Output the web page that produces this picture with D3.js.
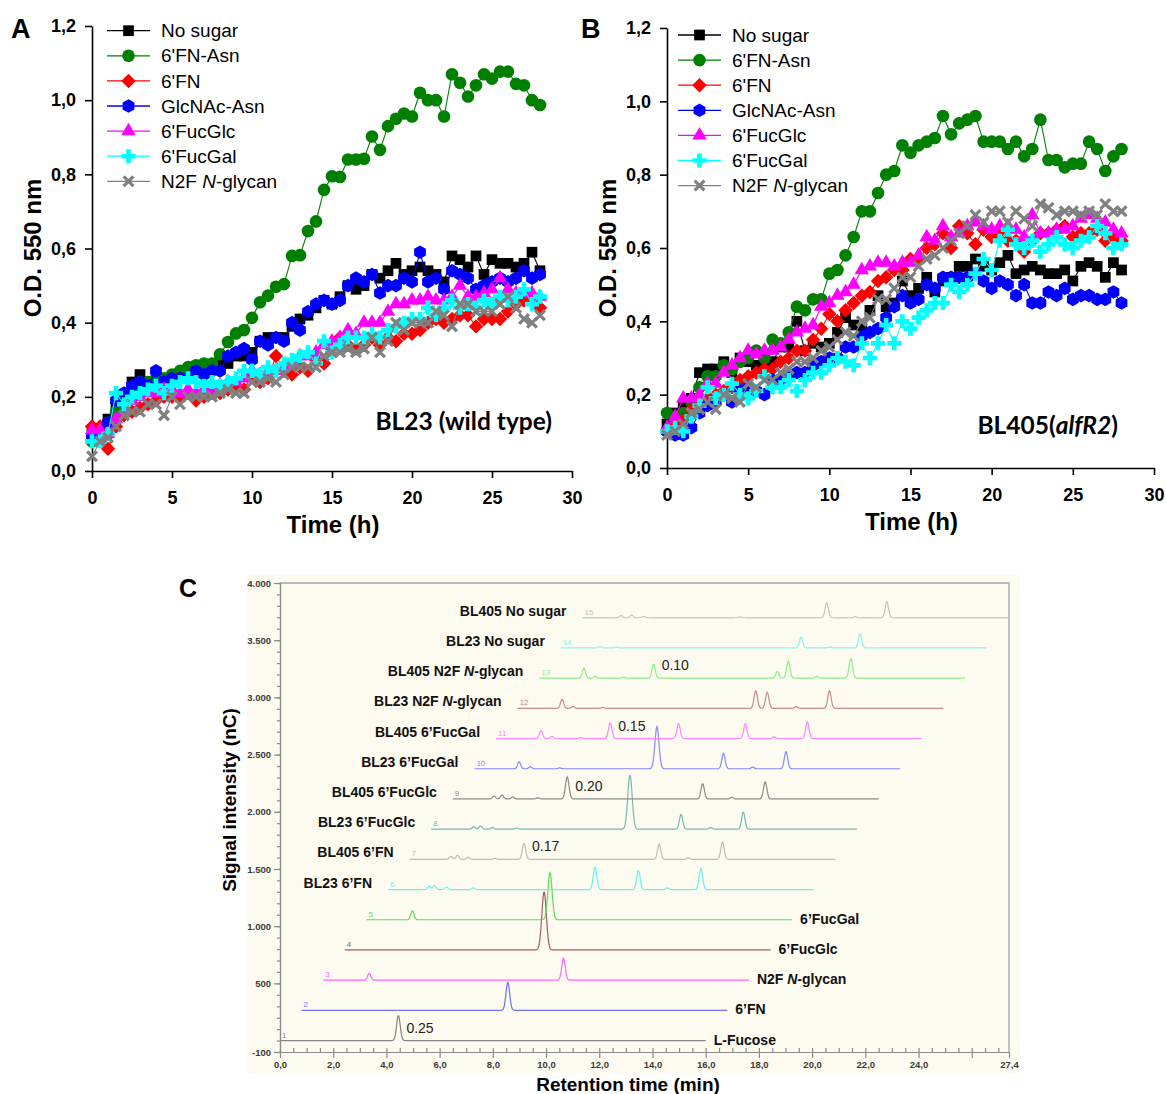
<!DOCTYPE html>
<html>
<head>
<meta charset="utf-8">
<script src="https://cdn.jsdelivr.net/npm/d3@7"></script>
<style>
  body { margin: 0; background: #fff; }
  svg { display: block; font-family: "Liberation Sans", Arial, sans-serif; }
</style>
</head>
<body>
<svg id="fig" width="1166" height="1094"></svg>
<script>
// ---- growth curves (panels A and B) ----
const hours = [0, 0.5, 1, 1.5, 2, 2.5, 3, 3.5, 4, 4.5, 5, 5.5, 6, 6.5, 7, 7.5, 8, 8.5, 9, 9.5,
  10, 10.5, 11, 11.5, 12, 12.5, 13, 13.5, 14, 14.5, 15, 15.5, 16, 16.5, 17, 17.5, 18, 18.5, 19, 19.5,
  20, 20.5, 21, 21.5, 22, 22.5, 23, 23.5, 24, 24.5, 25, 25.5, 26, 26.5, 27, 27.5, 28];

const seriesNames = ['No sugar', "6'FN-Asn", "6'FN", 'GlcNAc-Asn', "6'FucGlc", "6'FucGal", 'N2F N-glycan'];
const seriesColors = ['#000000', '#008000', '#ff0000', '#0000ff', '#ff00ff', '#00ffff', '#808080'];

const aNoSugar = [0.10,0.11,0.14,0.17,0.20,0.24,0.26,0.24,0.22,0.24, 0.25,0.25,0.26,0.27,0.27,0.28,0.30,0.29,0.31,0.31,
  0.32,0.35,0.36,0.36,0.36,0.39,0.41,0.42,0.44,0.46, 0.45,0.47,0.50,0.49,0.50,0.53,0.52,0.54,0.56,0.53,
  0.54,0.55,0.54,0.53,0.51,0.58,0.57,0.55,0.58,0.53, 0.57,0.56,0.56,0.55,0.56,0.59,0.54];
const aFNAsn = [0.08,0.10,0.13,0.16,0.19,0.22,0.24,0.24,0.25,0.25, 0.26,0.27,0.28,0.285,0.29,0.29,0.315,0.348,0.371,0.38,
  0.413,0.455,0.473,0.497,0.504,0.58,0.582,0.647,0.673,0.758, 0.795,0.793,0.84,0.84,0.842,0.902,0.866,0.93,0.95,0.964,
  0.956,1.02,1.0,1.0,0.956,1.07,1.047,1.01,1.04,1.07, 1.058,1.077,1.077,1.044,1.04,1.0,0.987];
const aFN = [0.12,0.12,0.06,0.12,0.15,0.16,0.17,0.18,0.19,0.20, 0.20,0.20,0.21,0.19,0.20,0.21,0.21,0.22,0.23,0.22,
  0.26,0.24,0.25,0.31,0.27,0.26,0.28,0.27,0.30,0.29, 0.33,0.36,0.34,0.33,0.34,0.36,0.34,0.36,0.35,0.37,
  0.37,0.38,0.40,0.41,0.40,0.41,0.42,0.42,0.39,0.41, 0.41,0.41,0.43,0.45,0.46,0.46,0.44];
const aGlcNAcAsn = [0.09,0.10,0.13,0.19,0.21,0.23,0.24,0.23,0.27,0.24, 0.25,0.25,0.25,0.27,0.26,0.27,0.27,0.31,0.32,0.33,
  0.30,0.35,0.34,0.36,0.35,0.40,0.38,0.43,0.45,0.46, 0.45,0.46,0.50,0.52,0.51,0.53,0.48,0.50,0.50,0.52,
  0.51,0.59,0.51,0.52,0.49,0.54,0.53,0.52,0.49,0.50, 0.51,0.52,0.51,0.52,0.54,0.52,0.53];
const aFucGlc = [0.11,0.11,0.10,0.14,0.16,0.19,0.20,0.21,0.21,0.22, 0.22,0.21,0.22,0.21,0.22,0.22,0.23,0.24,0.24,0.25,
  0.27,0.26,0.27,0.27,0.28,0.29,0.31,0.31,0.32,0.34, 0.35,0.36,0.38,0.37,0.40,0.40,0.40,0.43,0.45,0.45,
  0.46,0.46,0.47,0.46,0.46,0.47,0.50,0.47,0.47,0.48, 0.49,0.52,0.49,0.48,0.48,0.48,0.47];
const aFucGal = [0.08,0.08,0.10,0.21,0.18,0.20,0.21,0.22,0.23,0.21, 0.23,0.24,0.25,0.24,0.23,0.24,0.23,0.24,0.25,0.27,
  0.27,0.26,0.28,0.27,0.29,0.30,0.31,0.32,0.29,0.35, 0.32,0.34,0.36,0.36,0.36,0.37,0.36,0.38,0.39,0.40,
  0.41,0.41,0.44,0.42,0.44,0.46,0.44,0.45,0.44,0.46, 0.45,0.47,0.46,0.47,0.49,0.45,0.47];
const aN2F = [0.04,0.08,0.09,0.12,0.15,0.16,0.16,0.18,0.18,0.15, 0.20,0.18,0.20,0.20,0.20,0.20,0.21,0.22,0.21,0.21,
  0.24,0.24,0.25,0.24,0.26,0.28,0.28,0.28,0.28,0.31, 0.32,0.32,0.33,0.32,0.33,0.36,0.32,0.35,0.40,0.38,
  0.40,0.40,0.40,0.43,0.42,0.39,0.45,0.45,0.43,0.43, 0.43,0.45,0.47,0.44,0.41,0.40,0.42];

const bNoSugar = [0.12,0.15,0.17,0.19,0.26,0.27,0.27,0.29,0.26,0.30, 0.29,0.28,0.29,0.29,0.33,0.33,0.40,0.32,0.34,0.33,
  0.34,0.37,0.41,0.39,0.38,0.43,0.47,0.44,0.45,0.51, 0.47,0.49,0.52,0.48,0.51,0.52,0.55,0.55,0.57,0.55,
  0.54,0.56,0.58,0.53,0.54,0.55,0.54,0.53,0.53,0.54, 0.51,0.55,0.56,0.55,0.52,0.56,0.54];
const bFNAsn = [0.15,0.12,0.15,0.18,0.22,0.25,0.25,0.28,0.27,0.29, 0.30,0.32,0.30,0.35,0.34,0.37,0.44,0.43,0.46,0.46,
  0.53,0.54,0.58,0.63,0.70,0.70,0.75,0.80,0.81,0.88, 0.86,0.88,0.89,0.90,0.96,0.91,0.94,0.95,0.96,0.89,
  0.89,0.89,0.87,0.89,0.85,0.87,0.95,0.84,0.84,0.82, 0.83,0.83,0.89,0.87,0.81,0.85,0.87];
const bFN = [0.10,0.12,0.13,0.16,0.17,0.19,0.20,0.21,0.22,0.24, 0.25,0.26,0.27,0.27,0.29,0.30,0.32,0.32,0.35,0.38,
  0.42,0.40,0.43,0.45,0.47,0.48,0.51,0.52,0.54,0.54, 0.57,0.57,0.60,0.61,0.64,0.60,0.66,0.64,0.61,0.65,
  0.63,0.64,0.62,0.62,0.59,0.62,0.64,0.64,0.65,0.66, 0.63,0.64,0.64,0.65,0.62,0.63,0.62];
const bGlcNAcAsn = [0.10,0.09,0.09,0.11,0.15,0.17,0.18,0.20,0.18,0.21, 0.22,0.21,0.20,0.24,0.24,0.25,0.26,0.26,0.28,0.29,
  0.30,0.30,0.33,0.33,0.36,0.37,0.38,0.41,0.44,0.47, 0.45,0.46,0.50,0.49,0.52,0.52,0.52,0.52,0.53,0.51,
  0.49,0.51,0.50,0.47,0.50,0.45,0.45,0.48,0.47,0.49, 0.46,0.47,0.47,0.46,0.46,0.48,0.45];
const bFucGlc = [0.11,0.14,0.19,0.19,0.20,0.23,0.23,0.26,0.28,0.30, 0.32,0.31,0.32,0.32,0.33,0.35,0.37,0.38,0.39,0.44,
  0.45,0.47,0.48,0.50,0.54,0.55,0.56,0.56,0.55,0.56, 0.56,0.58,0.63,0.62,0.66,0.63,0.64,0.66,0.67,0.66,
  0.65,0.66,0.66,0.65,0.63,0.69,0.64,0.64,0.65,0.65, 0.66,0.68,0.69,0.68,0.67,0.65,0.64];
const bFucGal = [0.10,0.11,0.10,0.14,0.17,0.22,0.19,0.20,0.23,0.20, 0.19,0.21,0.25,0.22,0.22,0.24,0.21,0.24,0.26,0.26,
  0.28,0.30,0.29,0.28,0.34,0.30,0.34,0.39,0.34,0.40, 0.38,0.41,0.43,0.45,0.45,0.50,0.48,0.50,0.53,0.57,
  0.54,0.62,0.65,0.61,0.60,0.62,0.59,0.61,0.63,0.61, 0.60,0.62,0.63,0.66,0.64,0.60,0.61];
const bN2F = [0.09,0.10,0.12,0.15,0.16,0.18,0.16,0.20,0.19,0.18, 0.23,0.22,0.24,0.24,0.26,0.27,0.29,0.29,0.30,0.32,
  0.33,0.35,0.37,0.36,0.40,0.41,0.46,0.46,0.49,0.52, 0.52,0.55,0.57,0.58,0.60,0.62,0.64,0.66,0.69,0.67,
  0.70,0.70,0.67,0.70,0.68,0.66,0.72,0.71,0.69,0.70, 0.70,0.69,0.70,0.69,0.72,0.70,0.70];

const timeTicks = [0, 5, 10, 15, 20, 25, 30];
const odTicks = [0, 0.2, 0.4, 0.6, 0.8, 1.0, 1.2];

// ---- HPAEC-PAD chromatograms (panel C) ----
// peaks per trace: [retention time (min, from trace start), height (nC)]
const trace1 = [[4.45, 219]];
const trace2 = [[7.75, 245]];
const trace3 = [[1.73, 61], [9.03, 192]];
const trace4 = [[7.49, 507]];
const trace5 = [[1.73, 79], [6.90, 411]];
const trace6 = [[1.55, 30], [1.75, 35], [2.2, 22], [3.2, 15], [7.78, 195], [9.41, 166], [10.5, 15], [11.76, 184]];
const trace7 = [[1.55, 26], [1.8, 35], [2.2, 18], [3.2, 10], [4.30, 140], [9.38, 131], [10.47, 15], [11.76, 151]];
const trace8 = [[1.6, 22], [1.85, 28], [2.3, 15], [3.2, 10], [7.47, 472], [9.39, 129], [10.5, 15], [11.73, 149]];
const trace9 = [[1.55, 26], [1.85, 35], [2.25, 18], [3.2, 10], [4.30, 192], [9.39, 134], [10.48, 15], [11.74, 149]];
const trace10 = [[1.68, 61], [2.1, 18], [3.2, 8], [6.86, 367], [9.36, 134], [10.46, 15], [11.71, 149]];
const trace11 = [[1.69, 70], [2.1, 18], [3.2, 8], [4.29, 140], [6.86, 131], [9.37, 131], [10.45, 15], [11.70, 146]];
const trace12 = [[1.67, 79], [2.08, 18], [3.2, 8], [8.95, 154], [9.38, 140], [10.47, 15], [11.72, 154]];
const trace13 = [[1.68, 87], [2.1, 15], [3.15, 10], [4.30, 122], [8.95, 61], [9.36, 149], [10.44, 15], [11.71, 172]];
const trace14 = [[1.47, 12], [2.1, 8], [9.03, 96], [10.1, 10], [11.25, 122]];
const trace15 = [[1.45, 20], [1.85, 25], [2.3, 12], [5.92, 8], [9.18, 131], [10.25, 10], [11.44, 140]];
const traces = [trace1, trace2, trace3, trace4, trace5, trace6, trace7, trace8,
  trace9, trace10, trace11, trace12, trace13, trace14, trace15];
const traceColors = ['#858585', '#7272f2', '#ff66ff', '#a55a60', '#55e055', '#66f2f2', '#bcbcbc', '#74bab2',
  '#8a8a8a', '#8888ff', '#ff88ff', '#c48c8c', '#88f088', '#88f4f4', '#c4c4c4'];
const rightLabels = ['L-Fucose', '6’FN', 'N2F N-glycan', '6’FucGlc', '6’FucGal'];
const leftLabels = ['BL23 6’FN', 'BL405 6’FN', 'BL23 6’FucGlc', 'BL405 6’FucGlc', 'BL23 6’FucGal',
  'BL405 6’FucGal', 'BL23 N2F N-glycan', 'BL405 N2F N-glycan', 'BL23 No sugar', 'BL405 No sugar'];
const peakNotes = [[1, 4.45, '0.25'], [7, 4.30, '0.17'], [9, 4.30, '0.20'], [11, 4.29, '0.15'], [13, 4.30, '0.10']];
const signalTicks = [-100, 500, 1000, 1500, 2000, 2500, 3000, 3500, 4000];
const retentionTicks = [0, 2, 4, 6, 8, 10, 12, 14, 16, 18, 20, 22, 24, 27.4];

// ---------------------------------------------------------------------------
const svg = d3.select('#fig');
svg.append('rect').attr('width', 1166).attr('height', 1094).attr('fill', '#fff');

const euro = d3.formatLocale({ decimal: ',', thousands: '.', grouping: [3], currency: ['', ''], minus: '-' });
const odFormat = euro.format('.1f');

const diamond = {
  draw(ctx, size) {
    const r = Math.sqrt(size / 2);
    ctx.moveTo(0, -r); ctx.lineTo(r, 0); ctx.lineTo(0, r); ctx.lineTo(-r, 0); ctx.closePath();
  }
};
const hexagon = {
  draw(ctx, size) {
    const r = Math.sqrt(size / (1.5 * Math.sqrt(3)));
    for (let i = 0; i < 6; i++) {
      const a = Math.PI / 3 * i - Math.PI / 2;
      if (i === 0) ctx.moveTo(r * Math.cos(a), r * Math.sin(a));
      else ctx.lineTo(r * Math.cos(a), r * Math.sin(a));
    }
    ctx.closePath();
  }
};
const times = {
  draw(ctx, size) {
    const r = Math.sqrt(size) / 2;
    ctx.moveTo(-r, -r); ctx.lineTo(r, r); ctx.moveTo(r, -r); ctx.lineTo(-r, r);
  }
};
const markers = [
  { type: d3.symbolSquare, size: 115 },
  { type: d3.symbolCircle, size: 125 },
  { type: diamond, size: 105 },
  { type: hexagon, size: 120 },
  { type: d3.symbolTriangle, size: 90 },
  { type: d3.symbolCross, size: 110 },
  { type: times, size: 95, stroke: true }
];

function drawMarker(sel, k) {
  const m = markers[k];
  sel.attr('d', d3.symbol().type(m.type).size(m.size)());
  if (m.stroke) sel.attr('fill', 'none').attr('stroke', seriesColors[k]).attr('stroke-width', 3.2);
  else sel.attr('fill', seriesColors[k]).attr('stroke', 'none');
}

function glycanText(sel, label) {
  const i = label.indexOf('N-glycan');
  if (i < 0) { sel.text(label); return; }
  sel.append('tspan').text(label.slice(0, i));
  sel.append('tspan').attr('font-style', 'italic').text('N');
  sel.append('tspan').text('-glycan');
}

function growthPanel(cfg) {
  const g = svg.append('g');
  const x = d3.scaleLinear().domain([0, 30]).range([cfg.left, cfg.right]);
  const y = d3.scaleLinear().domain([0, 1.2]).range([cfg.bottom, cfg.top]);

  g.append('g').attr('transform', `translate(0,${cfg.bottom})`)
    .call(d3.axisBottom(x).tickValues(timeTicks).tickSize(7).tickSizeOuter(0).tickPadding(13).tickFormat(d3.format('d')));
  g.append('g').attr('transform', `translate(${cfg.left},0)`)
    .call(d3.axisLeft(y).tickValues(odTicks).tickSize(7).tickSizeOuter(0).tickPadding(9).tickFormat(odFormat));
  g.selectAll('.domain, .tick line').attr('stroke', '#000').attr('stroke-width', 1.6);
  g.selectAll('.tick text').attr('font-size', 18).attr('font-weight', 'bold').attr('fill', '#000')
    .attr('font-family', '"Liberation Sans", Arial, sans-serif');

  cfg.series.forEach((vals, k) => {
    const pts = hours.map((h, i) => [x(h), y(vals[i])]);
    g.append('path').attr('d', d3.line()(pts)).attr('fill', 'none')
      .attr('stroke', seriesColors[k]).attr('stroke-width', 1.1);
    g.append('g').selectAll('path').data(pts).join('path')
      .attr('transform', d => `translate(${d[0]},${d[1]})`)
      .call(drawMarker, k);
  });

  // legend
  seriesNames.forEach((name, k) => {
    const ly = cfg.legendY + k * 25.1;
    g.append('line').attr('x1', cfg.legendX).attr('x2', cfg.legendX + 43).attr('y1', ly).attr('y2', ly)
      .attr('stroke', seriesColors[k]).attr('stroke-width', 1.3);
    g.append('path').attr('transform', `translate(${cfg.legendX + 21.5},${ly})`).call(drawMarker, k);
    g.append('text').attr('x', cfg.legendX + 54).attr('y', ly).attr('dy', '0.35em')
      .attr('font-size', 19).attr('fill', '#000').call(glycanText, name);
  });

  g.append('text').attr('x', cfg.letterX).attr('y', 28).attr('dy', '0.36em')
    .attr('font-size', 27).attr('font-weight', 'bold').text(cfg.letter);
  g.append('text').attr('transform', `translate(${cfg.left - 60},248) rotate(-90)`)
    .attr('text-anchor', 'middle').attr('dy', '0.36em').attr('font-size', 24).attr('font-weight', 'bold')
    .text('O.D. 550 nm');
  g.append('text').attr('x', (cfg.left + cfg.right) / 2 + 1).attr('y', cfg.bottom + 53).attr('dy', '0.36em')
    .attr('text-anchor', 'middle').attr('font-size', 24).attr('font-weight', 'bold').text('Time (h)');
  return g;
}

const gA = growthPanel({
  left: 92, right: 572, top: 26, bottom: 471, letter: 'A', letterX: 11,
  legendX: 107, legendY: 30.7,
  series: [aNoSugar, aFNAsn, aFN, aGlcNAcAsn, aFucGlc, aFucGal, aN2F]
});
gA.append('text').attr('x', 552).attr('y', 421).attr('dy', '0.36em').attr('text-anchor', 'end')
  .attr('font-family', 'Lato, "Open Sans", sans-serif').attr('font-size', 24.5).attr('font-weight', 'bold')
  .text('BL23 (wild type)');

const gB = growthPanel({
  left: 667, right: 1154, top: 28, bottom: 468, letter: 'B', letterX: 581,
  legendX: 678, legendY: 35,
  series: [bNoSugar, bFNAsn, bFN, bGlcNAcAsn, bFucGlc, bFucGal, bN2F]
});
const bl405 = gB.append('text').attr('x', 1118).attr('y', 425).attr('dy', '0.36em').attr('text-anchor', 'end')
  .attr('font-family', 'Lato, "Open Sans", sans-serif').attr('font-size', 24.5).attr('font-weight', 'bold');
bl405.append('tspan').text('BL405(');
bl405.append('tspan').attr('font-style', 'italic').text('alfR2');
bl405.append('tspan').text(')');

// ---- panel C ----
const gC = svg.append('g');
const cX = d3.scaleLinear().domain([0, 27.4]).range([280, 1009]);
const cY = d3.scaleLinear().domain([-100, 4000]).range([1052, 583]);
const shiftT = 0.812;   // horizontal stagger per trace (min)
const shiftS = 264;     // vertical stagger per trace (nC)
const runLength = 16;   // minutes shown per trace

gC.append('rect').attr('x', 247).attr('y', 575).attr('width', 773).attr('height', 498).attr('fill', '#fdfaef');
gC.append('path').attr('d', `M${cX(0)},${cY(4000)}H${cX(27.4)}V${cY(-100)}`)
  .attr('fill', 'none').attr('stroke', '#a2a2aa').attr('stroke-width', 1.3);

// axes
const minorY = d3.range(-100, 4001, 100);
gC.append('g').attr('transform', `translate(${cX(0)},0)`)
  .call(d3.axisLeft(cY).tickValues(minorY).tickSize(3).tickSizeOuter(0).tickFormat(''));
gC.append('g').attr('transform', `translate(${cX(0)},0)`)
  .call(d3.axisLeft(cY).tickValues(signalTicks).tickSize(6).tickSizeOuter(0).tickPadding(3).tickFormat(euro.format(',')));
const minorX = d3.range(0, 27.4, 0.5);
gC.append('g').attr('transform', `translate(0,${cY(-100)})`)
  .call(d3.axisBottom(cX).tickValues(minorX).tickSize(-4).tickSizeOuter(0).tickFormat(''));
gC.append('g').attr('transform', `translate(0,${cY(-100)})`)
  .call(d3.axisBottom(cX).tickValues(retentionTicks.concat([26])).tickSize(6).tickSizeOuter(0).tickPadding(3)
    .tickFormat(d => d === 26 ? '' : euro.format('.1f')(d)));
gC.selectAll('.domain, .tick line').attr('stroke', '#8a8a8a').attr('stroke-width', 1.2);
gC.selectAll('.tick text').attr('font-size', 9.5).attr('font-weight', 'bold').attr('fill', '#3a3a3a')
  .attr('font-family', '"Liberation Sans", Arial, sans-serif');

// traces
const sampleT = d3.range(0, runLength + 0.0001, 0.02);
const peakSignal = (peaks, t) => d3.sum(peaks, ([rt, h]) => {
  const s = 0.055 + h * 0.00006;
  return h * Math.exp(-0.5 * ((t - rt) / s) ** 2);
});
traces.forEach((peaks, i) => {
  const dt = i * shiftT, ds = i * shiftS;
  const line = d3.line().x(t => cX(t + dt)).y(t => cY(ds + peakSignal(peaks, t)));
  gC.append('path').attr('d', line(sampleT)).attr('fill', 'none')
    .attr('stroke', traceColors[i]).attr('stroke-width', 1.2);
  gC.append('text').attr('x', cX(dt) + 2).attr('y', cY(ds) - 3).attr('font-size', 8)
    .attr('fill', traceColors[i]).text(i + 1);
  if (i < 5) {
    gC.append('text').attr('x', cX(dt + runLength) + 8).attr('y', cY(ds) - 1).attr('dy', '0.36em')
      .attr('font-size', 14).attr('font-weight', 'bold').attr('fill', '#111').call(glycanText, rightLabels[i]);
  } else {
    gC.append('text').attr('x', cX(dt) - 16).attr('y', cY(ds) - 7).attr('dy', '0.36em')
      .attr('text-anchor', 'end').attr('font-size', 14).attr('font-weight', 'bold').attr('fill', '#111')
      .call(glycanText, leftLabels[i - 5]);
  }
});

peakNotes.forEach(([n, rt, label]) => {
  const i = n - 1;
  gC.append('text').attr('x', cX(rt + i * shiftT) + 8).attr('y', cY(i * shiftS) - 13).attr('dy', '0.36em')
    .attr('font-size', 14).attr('fill', '#222').text(label);
});

gC.append('text').attr('x', 188).attr('y', 588).attr('dy', '0.36em').attr('text-anchor', 'middle')
  .attr('font-size', 25).attr('font-weight', 'bold').text('C');
gC.append('text').attr('transform', 'translate(229,800) rotate(-90)').attr('text-anchor', 'middle')
  .attr('dy', '0.36em').attr('font-size', 19).attr('font-weight', 'bold').text('Signal intensity (nC)');
gC.append('text').attr('x', 628).attr('y', 1084).attr('dy', '0.36em').attr('text-anchor', 'middle')
  .attr('font-size', 19).attr('font-weight', 'bold').text('Retention time (min)');
</script>
</body>
</html>
